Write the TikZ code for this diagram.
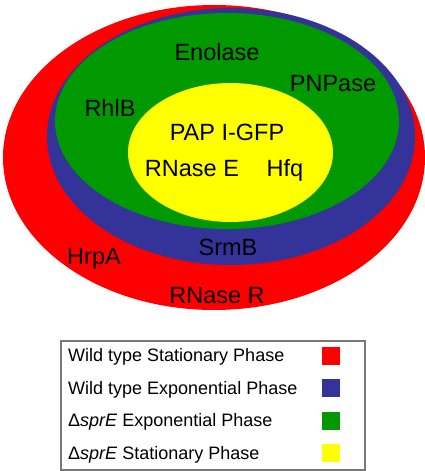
\documentclass[tikz,border=0pt]{standalone}
\usepackage{fontspec}
\setmainfont{Liberation Sans}
\usetikzlibrary{shapes.geometric,positioning}
\definecolor{statred}{RGB}{255,0,0}
\definecolor{expblue}{RGB}{51,51,153}
\definecolor{expgreen}{RGB}{0,153,0}
\definecolor{statyellow}{RGB}{255,255,0}
\definecolor{boxgray}{RGB}{120,120,120}

\begin{document}
\begin{tikzpicture}[x=1pt,y=-1pt,
	phase/.style={ellipse,inner sep=0pt,outer sep=0pt},
	protein/.style={anchor=base,inner sep=0pt,font=\fontsize{23.5}{28}\selectfont},
	legtext/.style={anchor=base west,inner sep=0pt,font=\fontsize{18}{22}\selectfont},
	swatch/.style={minimum size=18pt,inner sep=0pt,outer sep=0pt}]
	\useasboundingbox (0,0) rectangle (425,471);
	% nested phases
	\node [phase,fill=statred,minimum width=422pt,minimum height=305pt] (wtstat) at (214,157.5) {};
	\node [phase,fill=expblue,minimum width=368pt,minimum height=257pt] (wtexp) at (231,136.5) {};
	\node [phase,fill=expgreen,minimum width=344pt,minimum height=216pt] (dexp) at (227,121) {};
	\node [phase,fill=statyellow,minimum width=205pt,minimum height=139pt] (dstat) at (230.5,152.5) {};
	% proteins
	\node [protein] (enolase) at (217,60) {Enolase};
	\node [protein] (pnpase) at (333,91) {PNPase};
	\node [protein] (rhlb) at (110,116) {RhlB};
	\node [protein] (papi) at (227,140) {PAP I-GFP};
	\node [protein] (rnasee) at (192,176) {RNase E};
	\node [protein] (hfq) at (285,176) {Hfq};
	\node [protein] (srmb) at (228,255) {SrmB};
	\node [protein] (hrpa) at (94,264) {HrpA};
	\node [protein] (rnaser) at (217,303) {RNase R};
	% legend
	\node [draw=boxgray,line width=1.2pt,minimum width=304pt,minimum height=129pt,inner sep=0pt] (legend) at (213,405.5) {};
	\node [legtext] (l1) at (68,361.5) {Wild type Stationary Phase};
	\node [legtext] (l2) at (68,394.5) {Wild type Exponential Phase};
	\node [legtext] (l3) at (68,426.5) {Δ\textit{sprE} Exponential Phase};
	\node [legtext] (l4) at (68,459) {Δ\textit{sprE} Stationary Phase};
	\node [swatch,fill=statred] (s1) at (331,355.5) {};
	\node [swatch,fill=expblue] (s2) at (331,388.3) {};
	\node [swatch,fill=expgreen] (s3) at (331,420.5) {};
	\node [swatch,fill=statyellow] (s4) at (331,453) {};
\end{tikzpicture}
\end{document}
